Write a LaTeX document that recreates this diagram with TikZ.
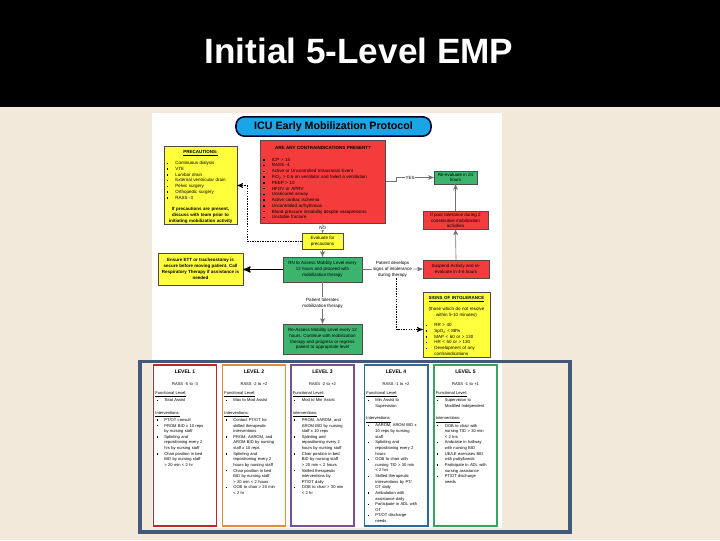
\documentclass[tikz,border=0pt]{standalone}
\usepackage{fontspec}
\setmainfont{Liberation Sans}
\usetikzlibrary{shapes,arrows,positioning,calc}
\definecolor{slidebg}{RGB}{242,233,218}
\definecolor{framebl}{RGB}{68,89,122}
\definecolor{pillbl}{RGB}{25,165,230}
\definecolor{boxyel}{RGB}{255,255,60}
\definecolor{boxred}{RGB}{245,60,60}
\definecolor{boxgrn}{RGB}{60,180,110}
\definecolor{lvred}{RGB}{190,40,45}
\definecolor{lvorange}{RGB}{228,140,55}
\definecolor{lvpurple}{RGB}{120,80,150}
\definecolor{lvblue}{RGB}{45,105,155}
\definecolor{lvgreen}{RGB}{55,165,95}
\tikzstyle{banner} = [rectangle, rounded corners=0.21cm, draw=black!80!blue, line width=1.1pt, fill=pillbl, minimum width=4.875cm, minimum height=0.425cm, font=\fontsize{7.6}{8}\selectfont\bfseries]
\tikzstyle{flowbox} = [rectangle, draw=black!70, line width=0.4pt, inner sep=1pt, align=left]
\tikzstyle{yelbox} = [flowbox, fill=boxyel]
\tikzstyle{redbox} = [flowbox, fill=boxred]
\tikzstyle{grnbox} = [flowbox, fill=boxgrn]
\tikzstyle{tag} = [fill=white, inner sep=0.6pt, align=center]
\tikzstyle{arrow} = [draw=black!55, line width=0.45pt, ->]
\tikzstyle{dotarrow} = [draw=black, line width=0.55pt, dash pattern=on 1pt off 0.8pt, ->]
\tikzstyle{levelbox} = [rectangle, line width=1.4pt, fill=white, minimum width=1.575cm, minimum height=4.025cm]
\tikzstyle{leveltext} = [anchor=north, text width=1.48cm, inner sep=0pt, align=left, font=\fontsize{2.9}{4.0}\selectfont]
\newcommand{\ctr}[1]{\par\centerline{#1}}
\newcommand{\bitem}[1]{\par\hangindent=2.2em\hangafter=1\noindent\makebox[2.2em][l]{\hspace{0.3em}\rule[0.15em]{0.32em}{0.32em}}#1\par}
\newcommand{\lvhead}[2]{\ctr{\fontsize{3.6}{4.2}\selectfont\bfseries LEVEL #1}\par\vspace{4.5pt}\ctr{RASS #2}\par\vspace{2pt}}

\begin{document}
\begin{tikzpicture}[x=0.025cm, y=-0.025cm, >=stealth', font=\fontsize{3.2}{4.1}\selectfont]
    \useasboundingbox (0,0) rectangle (720,540);
    \fill[slidebg] (0,0) rectangle (720,540);
    \fill[black] (0,0) rectangle (720,107);
    \fill[white] (152,113) rectangle (502,528);
    \draw[framebl, line width=2.2pt] (140,361.5) rectangle (570,532);
    \node (slidetitle) [text=white, anchor=base, font=\fontsize{25}{29}\selectfont\bfseries] at (359,63) {Initial 5-Level EMP};

    \node (pill) [banner] at (333.5,126.5) {ICU Early Mobilization Protocol};
    \node (precaution) [yelbox, text width=1.75cm, minimum height=1.875cm] at (200.5,185.5) {%
        \ctr{\textbf{\underline{PRECAUTIONS:}}}\par\vspace{2.5pt}
        \bitem{Continuous dialysis}
        \bitem{VTE}
        \bitem{Lumbar drain}
        \bitem{External ventricular drain}
        \bitem{Pelvic surgery}
        \bitem{Orthopedic surgery}
        \bitem{RASS -3}\par\vspace{4pt}
        \ctr{\textbf{If precautions are present,}}
        \ctr{\textbf{discuss with team prior to}}
        \ctr{\textbf{initiating mobilization activity}}};
    \node (contra) [redbox, text width=3.05cm, minimum height=2.075cm] at (323,181.5) {%
        \ctr{\textbf{ARE ANY CONTRAINDICATIONS PRESENT?}}\par\vspace{4pt}
        \bitem{ICP > 15}
        \bitem{RASS -4}
        \bitem{Active or Uncontrolled Intracranial Event}
        \bitem{FiO\textsubscript{2} > 0.6 on ventilator and failed a ventilation}
        \bitem{PEEP > 10}
        \bitem{HFOV or APRV}
        \bitem{Unsecured airway}
        \bitem{Active cardiac ischemia}
        \bitem{Uncontrolled arrhythmias}
        \bitem{Blood pressure instability despite vasopressors}
        \bitem{Unstable fracture}};
    \node (reeval) [grnbox, align=center, minimum width=1.075cm, minimum height=0.325cm] at (455.5,177.5) {Re-evaluate in 24\\hours};
    \node (poortol) [redbox, align=center, minimum width=1.625cm, minimum height=0.425cm] at (455.5,220.5) {If poor tolerance during 2\\consecutive mobilization\\activities};
    \node (evaluate) [yelbox, align=center, minimum width=1.025cm, minimum height=0.4cm] at (322.5,241) {Evaluate for\\precautions};
    \node (assess) [grnbox, align=center, minimum width=1.975cm, minimum height=0.625cm] at (322.5,269.5) {RN to Assess Mobility Level every\\12 hours and proceed with\\mobilization therapy};
    \node (ensure) [yelbox, align=center, font=\fontsize{3.2}{4.1}\selectfont\bfseries, minimum width=2.125cm, minimum height=0.8cm] at (200.5,269) {Ensure ETT or tracheostomy is\\secure before moving patient. Call\\Respiratory Therapy if assistance is\\needed};
    \node (suspend) [redbox, align=center, minimum width=1.65cm, minimum height=0.45cm] at (456,269) {Suspend Activity and re-\\evaluate in 4-6 hours};
    \node (reassess) [grnbox, align=center, minimum width=1.975cm, minimum height=0.75cm] at (322.5,339) {Re-Assess Mobility Level every 12\\hours. Continue with mobilization\\therapy and progress or regress\\patient to appropriate level};
    \node (signs) [yelbox, text width=1.6cm, minimum height=1.625cm] at (456.5,324.5) {%
        \ctr{\textbf{\underline{SIGNS OF INTOLERANCE}}}\par\vspace{3pt}
        \ctr{(those which do not resolve}
        \ctr{within 5-10 minutes)}\par\vspace{3pt}
        \bitem{RR > 40}
        \bitem{SpO\textsubscript{2} < 88\%}
        \bitem{MAP < 60 or > 130}
        \bitem{HR < 50 or > 130}
        \bitem{Development of any\newline contraindications}};

    \draw [arrow] (contra.east) -- ++(11,0) |- (reeval.west) node [tag, pos=0.68] {YES};
    \draw [arrow] (contra.south) -- (evaluate.north) node [tag, midway] {NO};
    \draw [arrow] (poortol.north) -- (reeval.south);
    \draw [arrow] (suspend.north) -- (poortol.south);
    \coordinate (dotcorner) at (247,185.5);
    \draw [dotarrow] (evaluate.west) -| (dotcorner) -- (precaution.east);
    \draw [arrow] (evaluate.south) -- (assess.north);
    \draw [->, line width=0.9pt] (assess.west) -- (assess.west -| ensure.east);
    \draw [arrow] (assess.east) -- (suspend.west) node [tag, midway] (intollabel) {Patient develops\\signs of intolerance\\during therapy};
    \coordinate (dotstart) at ($(intollabel.south)+(4,0)$);
    \draw [dotarrow] (dotstart) |- ($(signs.west)+(0,5)$);
    \draw [arrow] (assess.south) -- (reassess.north) node [tag, midway] {Patient tolerates\\mobilization therapy};

    \foreach \n/\cx/\col in {1/185/lvred, 2/254/lvorange, 3/322.5/lvpurple, 4/396/lvblue, 5/465.5/lvgreen}
        \node (lv\n) [levelbox, draw=\col] at (\cx,445.5) {};
    \node (lv1txt) [leveltext] at ($(lv1.north)+(0,4)$) {%
        \lvhead{1}{-5 to -3}
        \noindent\underline{Functional Level:}
        \bitem{Total Assist}\vspace{5pt}
        \noindent\underline{Interventions:}
        \bitem{PT/OT consult}
        \bitem{PROM BID x 10 reps\newline by nursing staff}
        \bitem{Splinting and\newline repositioning every 2\newline hrs by nursing staff}
        \bitem{Chair position in bed\newline BID by nursing staff\newline > 20 min < 2 hr}};
    \node (lv2txt) [leveltext] at ($(lv2.north)+(0,4)$) {%
        \lvhead{2}{-2 to +2}
        \noindent\underline{Functional Level:}
        \bitem{Max to Mod Assist}\vspace{5pt}
        \noindent\underline{Interventions:}
        \bitem{Contact PT/OT for\newline skilled therapeutic\newline interventions}
        \bitem{PROM, AAROM, and\newline AROM BID by nursing\newline staff x 10 reps}
        \bitem{Splinting and\newline repositioning every 2\newline hours by nursing staff}
        \bitem{Chair position in bed\newline BID by nursing staff\newline > 20 min < 2 hours}
        \bitem{OOB to chair > 20 min\newline < 2 hr}};
    \node (lv3txt) [leveltext] at ($(lv3.north)+(0,4)$) {%
        \lvhead{3}{-2 to +2}
        \noindent\underline{Functional Level:}
        \bitem{Mod to Min Assist}\vspace{5pt}
        \noindent\underline{Interventions:}
        \bitem{PROM, AAROM, and\newline AROM BID by nursing\newline staff x 10 reps}
        \bitem{Splinting and\newline repositioning every 2\newline hours by nursing staff}
        \bitem{Chair position in bed\newline BID by nursing staff\newline > 20 min < 2 hours}
        \bitem{Skilled therapeutic\newline interventions by\newline PT/OT daily}
        \bitem{OOB to chair > 30 min\newline < 2 hr}};
    \node (lv4txt) [leveltext] at ($(lv4.north)+(0,4)$) {%
        \lvhead{4}{-1 to +2}
        \noindent\underline{Functional Level:}
        \bitem{Min Assist to\newline Supervision}\vspace{5pt}
        \noindent\underline{Interventions:}
        \bitem{AAROM, AROM BID x\newline 10 reps by nursing\newline staff}
        \bitem{Splinting and\newline repositioning every 2\newline hours}
        \bitem{OOB to chair with\newline nursing TID > 30 min\newline < 2 hrs}
        \bitem{Skilled therapeutic\newline interventions by PT/\newline OT daily}
        \bitem{Ambulation with\newline assistance daily}
        \bitem{Participate in ADL with\newline OT}
        \bitem{PT/OT discharge\newline needs}};
    \node (lv5txt) [leveltext] at ($(lv5.north)+(0,4)$) {%
        \lvhead{5}{-1 to +1}
        \noindent\underline{Functional Level:}
        \bitem{Supervision to\newline Modified Independent}\vspace{5pt}
        \noindent\underline{Interventions:}
        \bitem{OOB to chair with\newline nursing TID > 30 min\newline < 2 hrs}
        \bitem{Ambulate in hallway\newline with nursing BID}
        \bitem{UE/LE exercises BID\newline with putty/bands}
        \bitem{Participate in ADL with\newline nursing assistance}
        \bitem{PT/OT discharge\newline needs}};
\end{tikzpicture}
\end{document}
